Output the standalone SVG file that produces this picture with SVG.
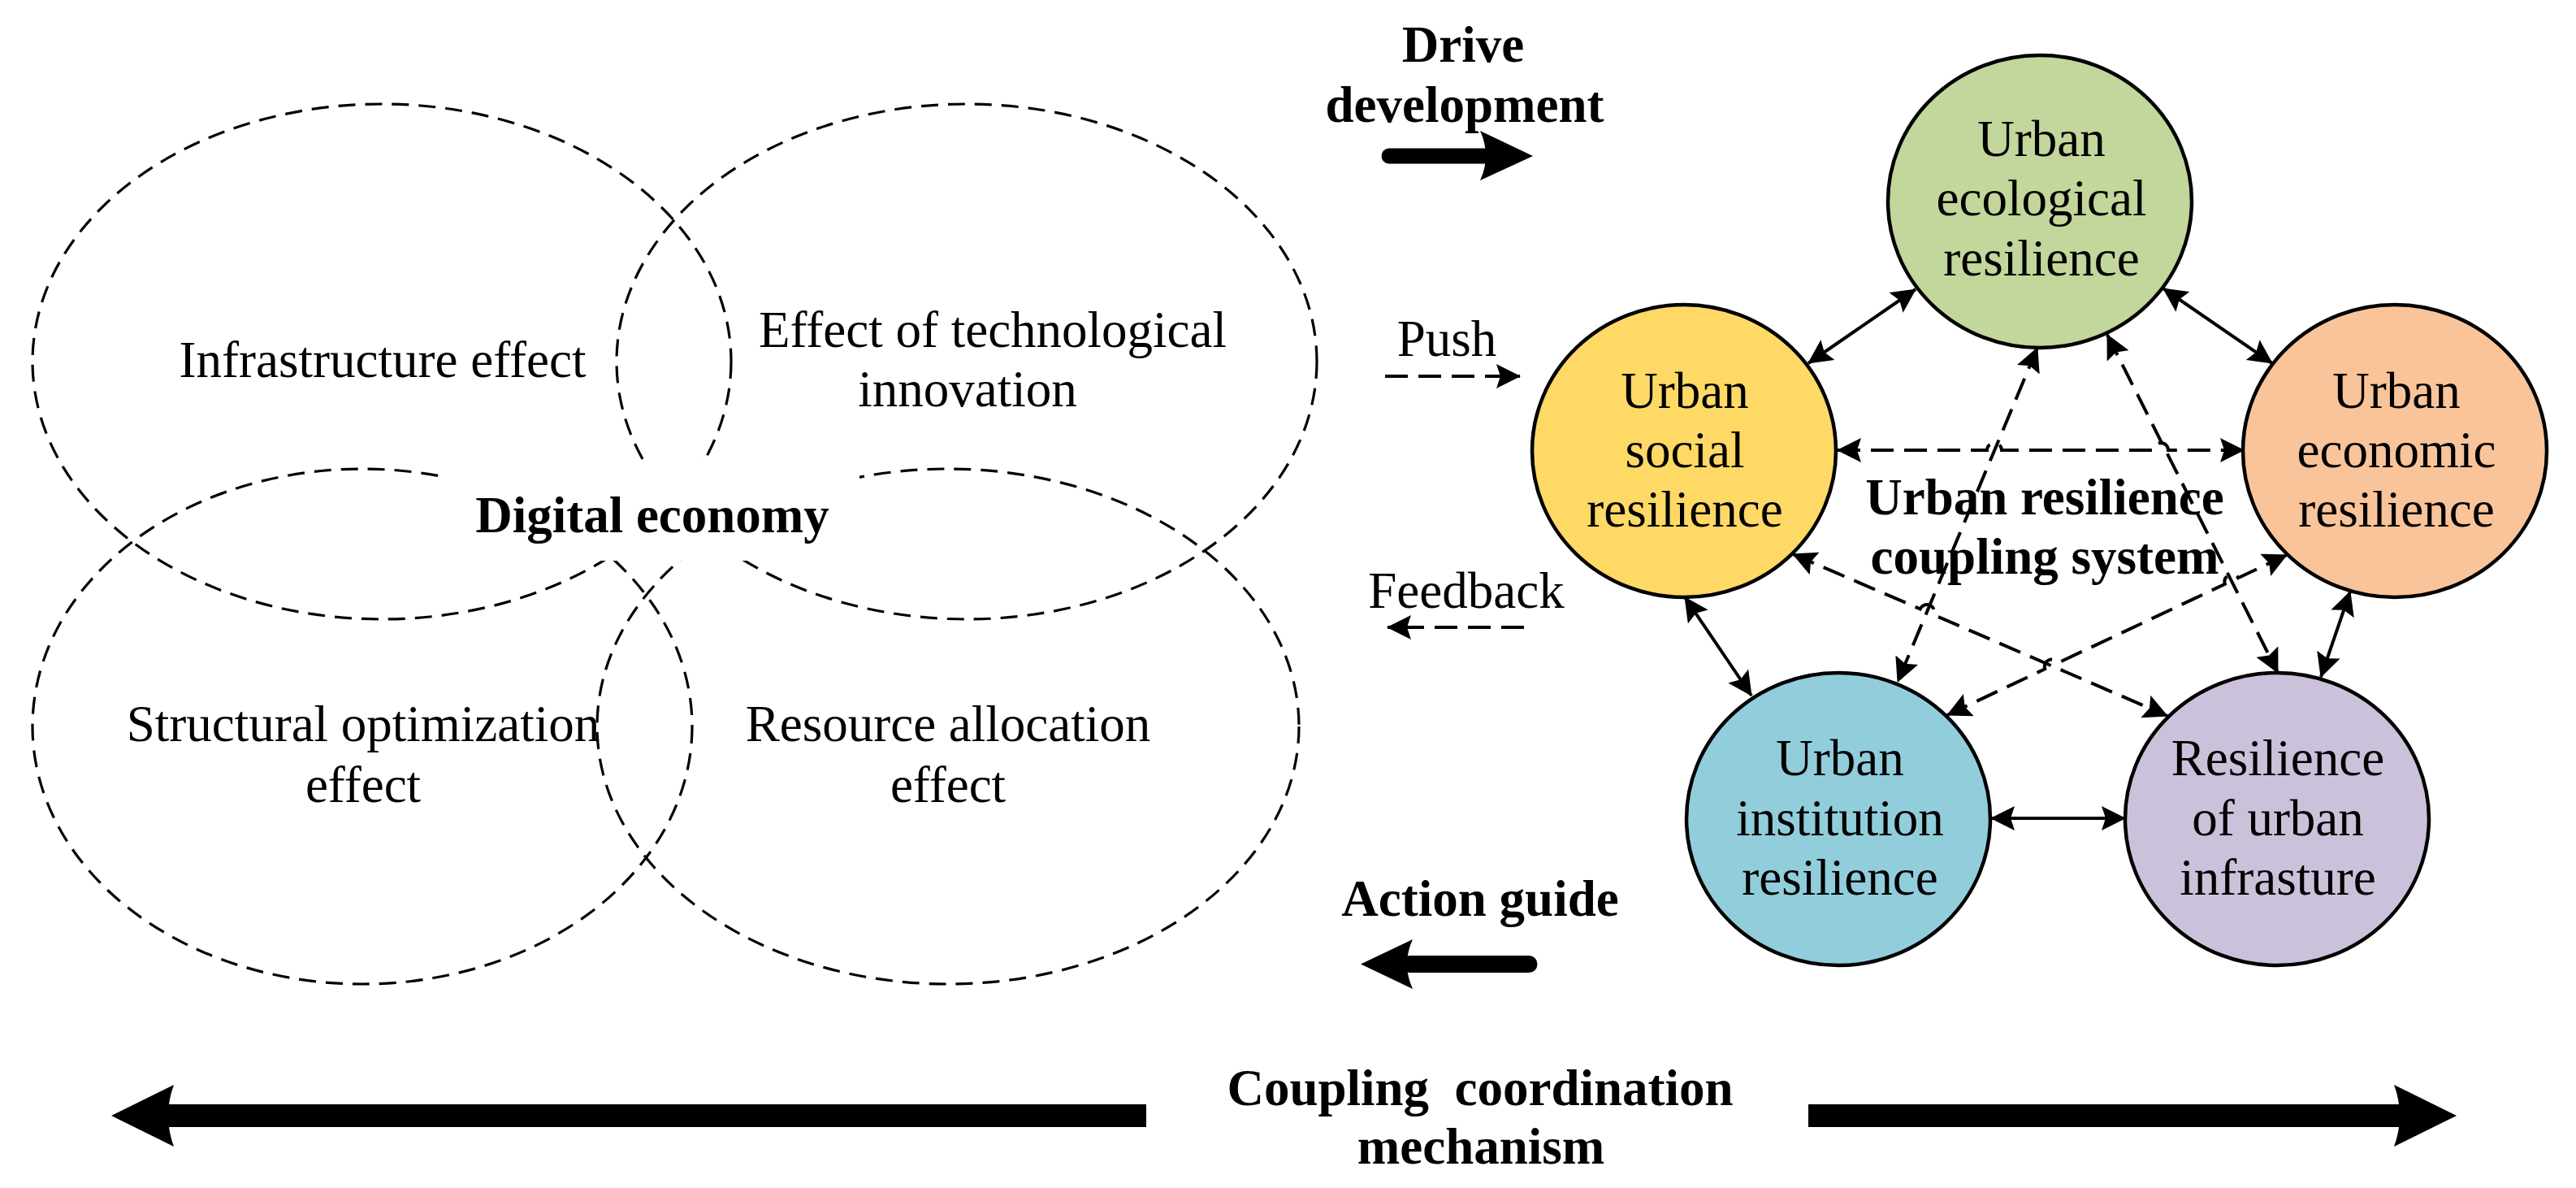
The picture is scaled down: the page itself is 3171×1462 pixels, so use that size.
<svg xmlns="http://www.w3.org/2000/svg" width="3171" height="1462" viewBox="0 0 3171 1462">
<style>
text{font-family:"Liberation Serif","Times New Roman",serif;fill:#000;text-anchor:middle}
.r{font-size:63px}
.b{font-size:63px;font-weight:bold}
.ell{fill:none;stroke:#000;stroke-width:3.2;stroke-dasharray:21 12}
.node{stroke:#000;stroke-width:4.5}
.dash{fill:none;stroke:#000;stroke-width:4;stroke-dasharray:28 13}
.solid{fill:none;stroke:#000;stroke-width:4}
.dbl{marker-start:url(#ah);marker-end:url(#ah)}
.blk{fill:#000;stroke:none}
</style>
<defs>
<marker id="ah" markerUnits="userSpaceOnUse" markerWidth="30" markerHeight="30" viewBox="0 0 30 30" refX="29" refY="15" orient="auto-start-reverse">
<path d="M0,0 L30,15 L0,30 L5,15 Z" fill="#000"/>
</marker>
</defs>
<rect width="3171" height="1462" fill="#fff"/>

<g id="digital-economy">
<ellipse class="ell" cx="470" cy="445" rx="430" ry="317"/>
<ellipse class="ell" cx="1190" cy="445" rx="431" ry="317"/>
<ellipse class="ell" cx="446" cy="894" rx="406" ry="317"/>
<ellipse class="ell" cx="1167" cy="894" rx="432" ry="317"/>
<rect x="547" y="570" width="511" height="120" fill="#fff"/>
<text class="r" x="471" y="464">Infrastructure effect</text>
<text class="r" x="1222" y="427">Effect of technological</text>
<text class="r" x="1191" y="500">innovation</text>
<text class="r" x="447" y="912">Structural optimization</text>
<text class="r" x="447" y="987">effect</text>
<text class="r" x="1167" y="912">Resource allocation</text>
<text class="r" x="1167" y="987">effect</text>
<text class="b" x="803" y="655">Digital economy</text>
</g>

<g id="drive-development">
<text class="b" x="1801" y="76">Drive</text>
<text class="b" x="1803" y="150">development</text>
<line x1="1710" y1="192" x2="1830" y2="192" stroke="#000" stroke-width="19" stroke-linecap="round"/>
<path class="blk" d="M1887,192 L1822,161 Q1836,192 1822,222 Z"/>
</g>

<g id="push">
<text class="r" x="1781" y="438">Push</text>
<line class="dash" x1="1705" y1="463" x2="1871" y2="463" stroke-dasharray="22 14" marker-end="url(#ah)"/>
</g>

<g id="feedback">
<text class="r" x="1805" y="748">Feedback</text>
<line class="dash" x1="1876" y1="772" x2="1708" y2="772" stroke-dasharray="28 13" marker-end="url(#ah)"/>
</g>

<g id="action-guide">
<text class="b" x="1822" y="1127">Action guide</text>
<line x1="1735" y1="1186.5" x2="1882" y2="1186.5" stroke="#000" stroke-width="21" stroke-linecap="round"/>
<path class="blk" d="M1675,1186.5 L1739,1156 Q1725,1186.5 1739,1217 Z"/>
</g>

<g id="coupling-coordination">
<text class="b" x="1822" y="1360" xml:space="preserve">Coupling  coordination</text>
<text class="b" x="1823" y="1432">mechanism</text>
<rect class="blk" x="205" y="1359" width="1206" height="28"/>
<path class="blk" d="M137,1373 L214,1335 Q200,1373 214,1411 Z"/>
<rect class="blk" x="2226" y="1359" width="729" height="28"/>
<path class="blk" d="M3024,1373 L2947,1335 Q2961,1373 2947,1411 Z"/>
</g>

<g id="node-ecological">
<ellipse class="node" cx="2511" cy="248" rx="187" ry="180" fill="#C3D69B"/>
<text class="r" x="2513" y="192">Urban</text>
<text class="r" x="2513" y="265">ecological</text>
<text class="r" x="2513" y="339">resilience</text>
</g>
<g id="node-social">
<ellipse class="node" cx="2073" cy="555" rx="187" ry="180" fill="#FFD966"/>
<text class="r" x="2074" y="502">Urban</text>
<text class="r" x="2074" y="575">social</text>
<text class="r" x="2074" y="648">resilience</text>
</g>
<g id="node-economic">
<ellipse class="node" cx="2948" cy="555" rx="187" ry="180" fill="#F9C49A"/>
<text class="r" x="2950" y="502">Urban</text>
<text class="r" x="2950" y="575">economic</text>
<text class="r" x="2950" y="648">resilience</text>
</g>
<g id="node-institution">
<ellipse class="node" cx="2263" cy="1008" rx="187" ry="180" fill="#92CDDC"/>
<text class="r" x="2265" y="954">Urban</text>
<text class="r" x="2265" y="1028">institution</text>
<text class="r" x="2265" y="1101">resilience</text>
</g>
<g id="node-infrastructure">
<ellipse class="node" cx="2803" cy="1008" rx="187" ry="180" fill="#CCC1DA"/>
<text class="r" x="2804" y="954">Resilience</text>
<text class="r" x="2804" y="1028">of urban</text>
<text class="r" x="2804" y="1101">infrasture</text>
</g>

<g id="system-label">
<text class="b" x="2517" y="633">Urban resilience</text>
<text class="b" x="2517" y="706">coupling system</text>
</g>

<g id="connectors">
<line class="solid dbl" x1="2226" y1="447" x2="2358" y2="356"/>
<line class="solid dbl" x1="2663" y1="355" x2="2797" y2="447"/>
<line class="solid dbl" x1="2074" y1="735" x2="2156" y2="856"/>
<line class="solid dbl" x1="2893" y1="728" x2="2857" y2="833"/>
<line class="solid dbl" x1="2451" y1="1007" x2="2616" y2="1007"/>
<path class="dash dbl" d="M2262,554 L2446,554 A9,9 0 0 1 2464,554 L2651,554 A9,9 0 0 1 2669,554 L2762,554"/>
<line class="dash dbl" x1="2508" y1="428" x2="2336" y2="839"/>
<line class="dash dbl" x1="2594" y1="412" x2="2804" y2="828"/>
<path class="dash dbl" d="M2207,682 L2363.7,749.4 A9,9 0 0 1 2380.3,756.6 L2668,881"/>
<path class="dash dbl" d="M2815,683 L2755.1,711.2 A9,9 0 0 0 2738.9,718.8 L2533.5,815.7 A9,9 0 0 0 2517.3,823.3 L2397,880"/>
</g>
</svg>
